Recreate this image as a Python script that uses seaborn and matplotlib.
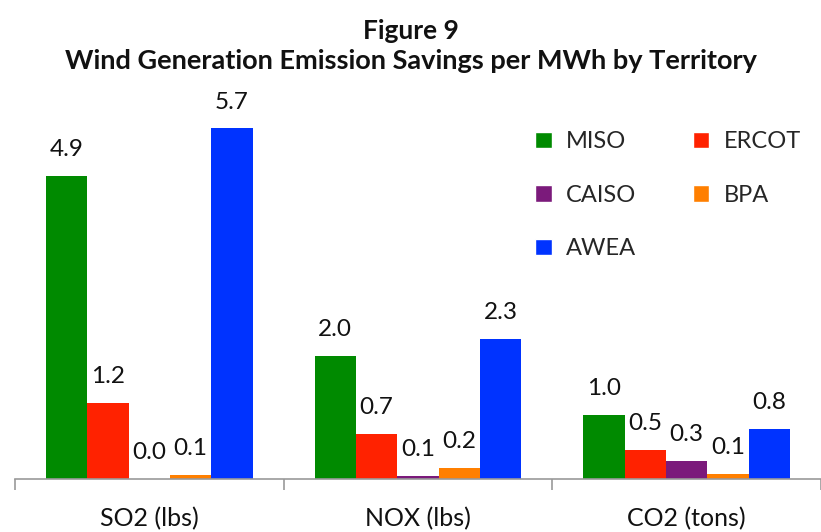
import matplotlib.pyplot as plt
import seaborn as sns
import pandas as pd
from matplotlib.patches import Patch

sns.set_theme(style="white")
plt.rcParams['font.family'] = ['Lato', 'DejaVu Sans']

# data
categories = ['SO2 (lbs)', 'NOX (lbs)', 'CO2 (tons)']
territories = ['MISO', 'ERCOT', 'CAISO', 'BPA', 'AWEA']
miso = [4.93, 2.00, 1.04]
ercot = [1.24, 0.73, 0.47]
caiso = [0.00, 0.05, 0.29]
bpa = [0.07, 0.18, 0.08]
awea = [5.70, 2.28, 0.81]
colors = ['#008a00', '#ff2200', '#7b1a7b', '#ff7f00', '#0033ff']

series = [miso, ercot, caiso, bpa, awea]
rows = []
for t, vals in zip(territories, series):
    for c, v in zip(categories, vals):
        rows.append({'Category': c, 'Territory': t, 'Value': v})
df = pd.DataFrame(rows)

fig = plt.figure(figsize=(8.21, 5.32), dpi=100)
ax = fig.add_axes([15 / 821, 53 / 532, 806 / 821, 369 / 532])

sns.barplot(data=df, x='Category', y='Value', hue='Territory', hue_order=territories,
            order=categories, palette=colors, width=0.77, saturation=1, ax=ax,
            legend=False, errorbar=None, linewidth=0)

for cont in ax.containers:
    for bar in cont:
        h = bar.get_height()
        ax.annotate(f"{h:.1f}", (bar.get_x() + bar.get_width() / 2, h),
                    xytext=(0, 19), textcoords='offset points',
                    ha='center', va='center', fontsize=17.5, color='#111111')

ax.set_ylim(0, 6)
ax.set_xlim(-0.5, -0.5 + 806 / 273)
ax.set_xlabel('')
ax.set_ylabel('')
ax.set_yticks([])
for s in ['top', 'right', 'left']:
    ax.spines[s].set_visible(False)
ax.spines['bottom'].set_color('#999999')
ax.spines['bottom'].set_linewidth(1.2)

ax.set_xticks([-0.5, 0.5, 1.5, 2.5])
ax.set_xticklabels([])
ax.tick_params(axis='x', which='major', bottom=True, length=8, width=1.2,
               color='#999999', direction='out')
ax.set_xticks([0, 1, 2], minor=True)
ax.set_xticklabels(categories, minor=True, fontsize=18, color='#111111')
ax.tick_params(axis='x', which='minor', length=0, pad=20)

fig.text(0.5, 1 - 31 / 532, 'Figure 9', ha='center', va='center',
         fontsize=19, fontweight='bold', color='#111111')
fig.text(0.5, 1 - 61 / 532, 'Wind Generation Emission Savings per MWh by Territory',
         ha='center', va='center', fontsize=19.5, fontweight='bold', color='#111111')

# legend filled row by row as in the reference
leg_order = [0, 2, 4, 1, 3]
handles = [Patch(facecolor=colors[i], label=territories[i]) for i in leg_order]
fig.legend(handles=handles, ncol=2, loc='upper left', bbox_to_anchor=(514 / 821, 1 - 110 / 532),
           frameon=False, fontsize=17, handlelength=0.7, handleheight=0.7,
           handletextpad=0.6, columnspacing=2.4, labelspacing=1.38)

fig.savefig('out.png', dpi=100)
